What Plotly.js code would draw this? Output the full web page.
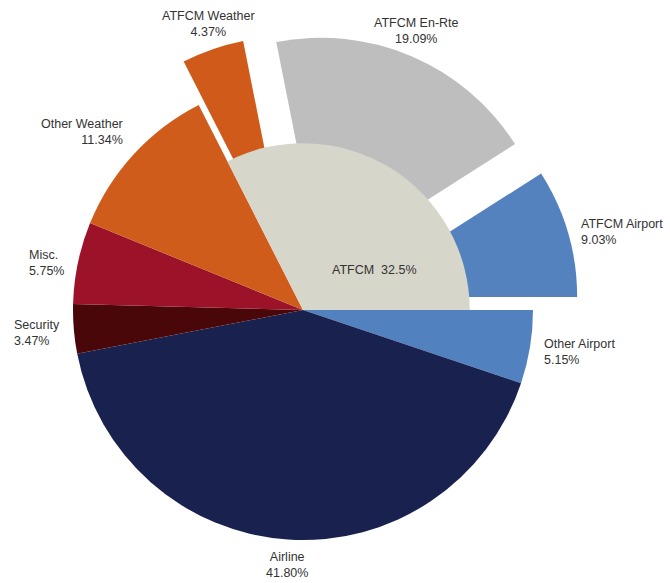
<!DOCTYPE html>
<html>
<head>
<meta charset="utf-8">
<script src="https://cdn.plot.ly/plotly-3.0.1.min.js"></script>
<style>html,body{margin:0;padding:0;background:#fff;}#chart{width:670px;height:583px;}</style>
</head>
<body>
<div id="chart"></div>
<script>
// ---- data ----
var categories = ['Other Airport', 'Airline', 'Security', 'Misc.', 'Other Weather', 'ATFCM Weather', 'ATFCM En-Rte', 'ATFCM Airport'];
var values = [5.15, 41.80, 3.47, 5.75, 11.34, 4.37, 19.09, 9.03];
var isATFCM = [false, false, false, false, false, true, true, true];
var groupLabel = 'ATFCM';

// ---- styles ----
var colors = ['#5281bf', '#19224f', '#4a0709', '#9b1229', '#d05c1c', '#cf5a1a', '#bebebe', '#5382bf'];
var beige = '#d7d6ca';
var W = 670, H = 583;
var CX = 303, CY = 310, R = 230;
var PULL = 0.2, INNER = 0.725;
var CLEAR = 'rgba(0,0,0,0)';
var FONT = { family: 'Liberation Sans, Arial, sans-serif', size: 12.5, color: '#333' };

function dom(cx, cy, r) {
  return { x: [(cx - r) / W, (cx + r) / W], y: [1 - (cy + r) / H, 1 - (cy - r) / H] };
}
function pieTrace(vals, cols, d) {
  return {
    type: 'pie', values: vals, labels: vals.map(function (v, i) { return 'p' + i; }),
    sort: false, direction: 'clockwise', rotation: 90,
    marker: { colors: cols, line: { width: 0 } },
    textinfo: 'none', hoverinfo: 'skip', showlegend: false, domain: d
  };
}

var total = values.reduce(function (a, b) { return a + b; }, 0);
var traces = [];
// base pie (non-exploded slices)
traces.push(pieTrace(values, colors.map(function (c, i) { return isATFCM[i] ? CLEAR : c; }), dom(CX, CY, R)));

// exploded slices, each as its own pie shifted along its bisector
var cum = 0, mids = [];
for (var i = 0; i < values.length; i++) {
  var mid = (cum + values[i] / 2) / total * 2 * Math.PI; // clockwise from east
  mids.push(mid);
  cum += values[i];
}
for (var j = 0; j < values.length; j++) {
  if (!isATFCM[j]) continue;
  var d = PULL * R;
  var cx = CX + d * Math.cos(mids[j]), cy = CY + d * Math.sin(mids[j]);
  traces.push(pieTrace(values, colors.map(function (c, i) { return i === j ? c : CLEAR; }), dom(cx, cy, R)));
}

// inner group sector
var groupSum = 0, otherSum = 0;
values.forEach(function (v, i) { if (isATFCM[i]) groupSum += v; else otherSum += v; });
traces.push(pieTrace([otherSum, groupSum], [CLEAR, beige], dom(CX, CY, R * INNER)));

// labels
var annotations = [];
var GAP = 12, DROP = 3;
for (var k = 0; k < values.length; k++) {
  var rr = R * (1 + (isATFCM[k] ? PULL : 0)) + GAP;
  var c = Math.cos(mids[k]), s = Math.sin(mids[k]);
  var xa = c > 0.4 ? 'left' : (c < -0.4 ? 'right' : 'center');
  var ya = s < -0.6 ? 'bottom' : (s > 0.6 ? 'top' : 'middle');
  var px = CX + rr * c, py = CY + rr * s + (ya === 'top' ? -3 : DROP);
  annotations.push({
    x: px / W, y: 1 - py / H, xref: 'paper', yref: 'paper',
    xanchor: xa, yanchor: ya, align: xa === 'center' ? 'center' : (c < 0 && s < -0.5 ? 'right' : 'left'),
    showarrow: false, text: categories[k] + '<br>' + values[k].toFixed(2) + '%',
    font: FONT
  });
}
annotations.push({
  x: 375 / W, y: 1 - 270 / H, xref: 'paper', yref: 'paper', showarrow: false,
  text: groupLabel + '&nbsp;&nbsp;' + (Math.round(groupSum * 10) / 10).toFixed(1) + '%',
  font: FONT
});

Plotly.newPlot('chart', traces, {
  width: W, height: H, margin: { l: 0, r: 0, t: 0, b: 0 },
  paper_bgcolor: '#fff', plot_bgcolor: '#fff', showlegend: false,
  annotations: annotations
}, { displayModeBar: false, staticPlot: true });
</script>
</body>
</html>
